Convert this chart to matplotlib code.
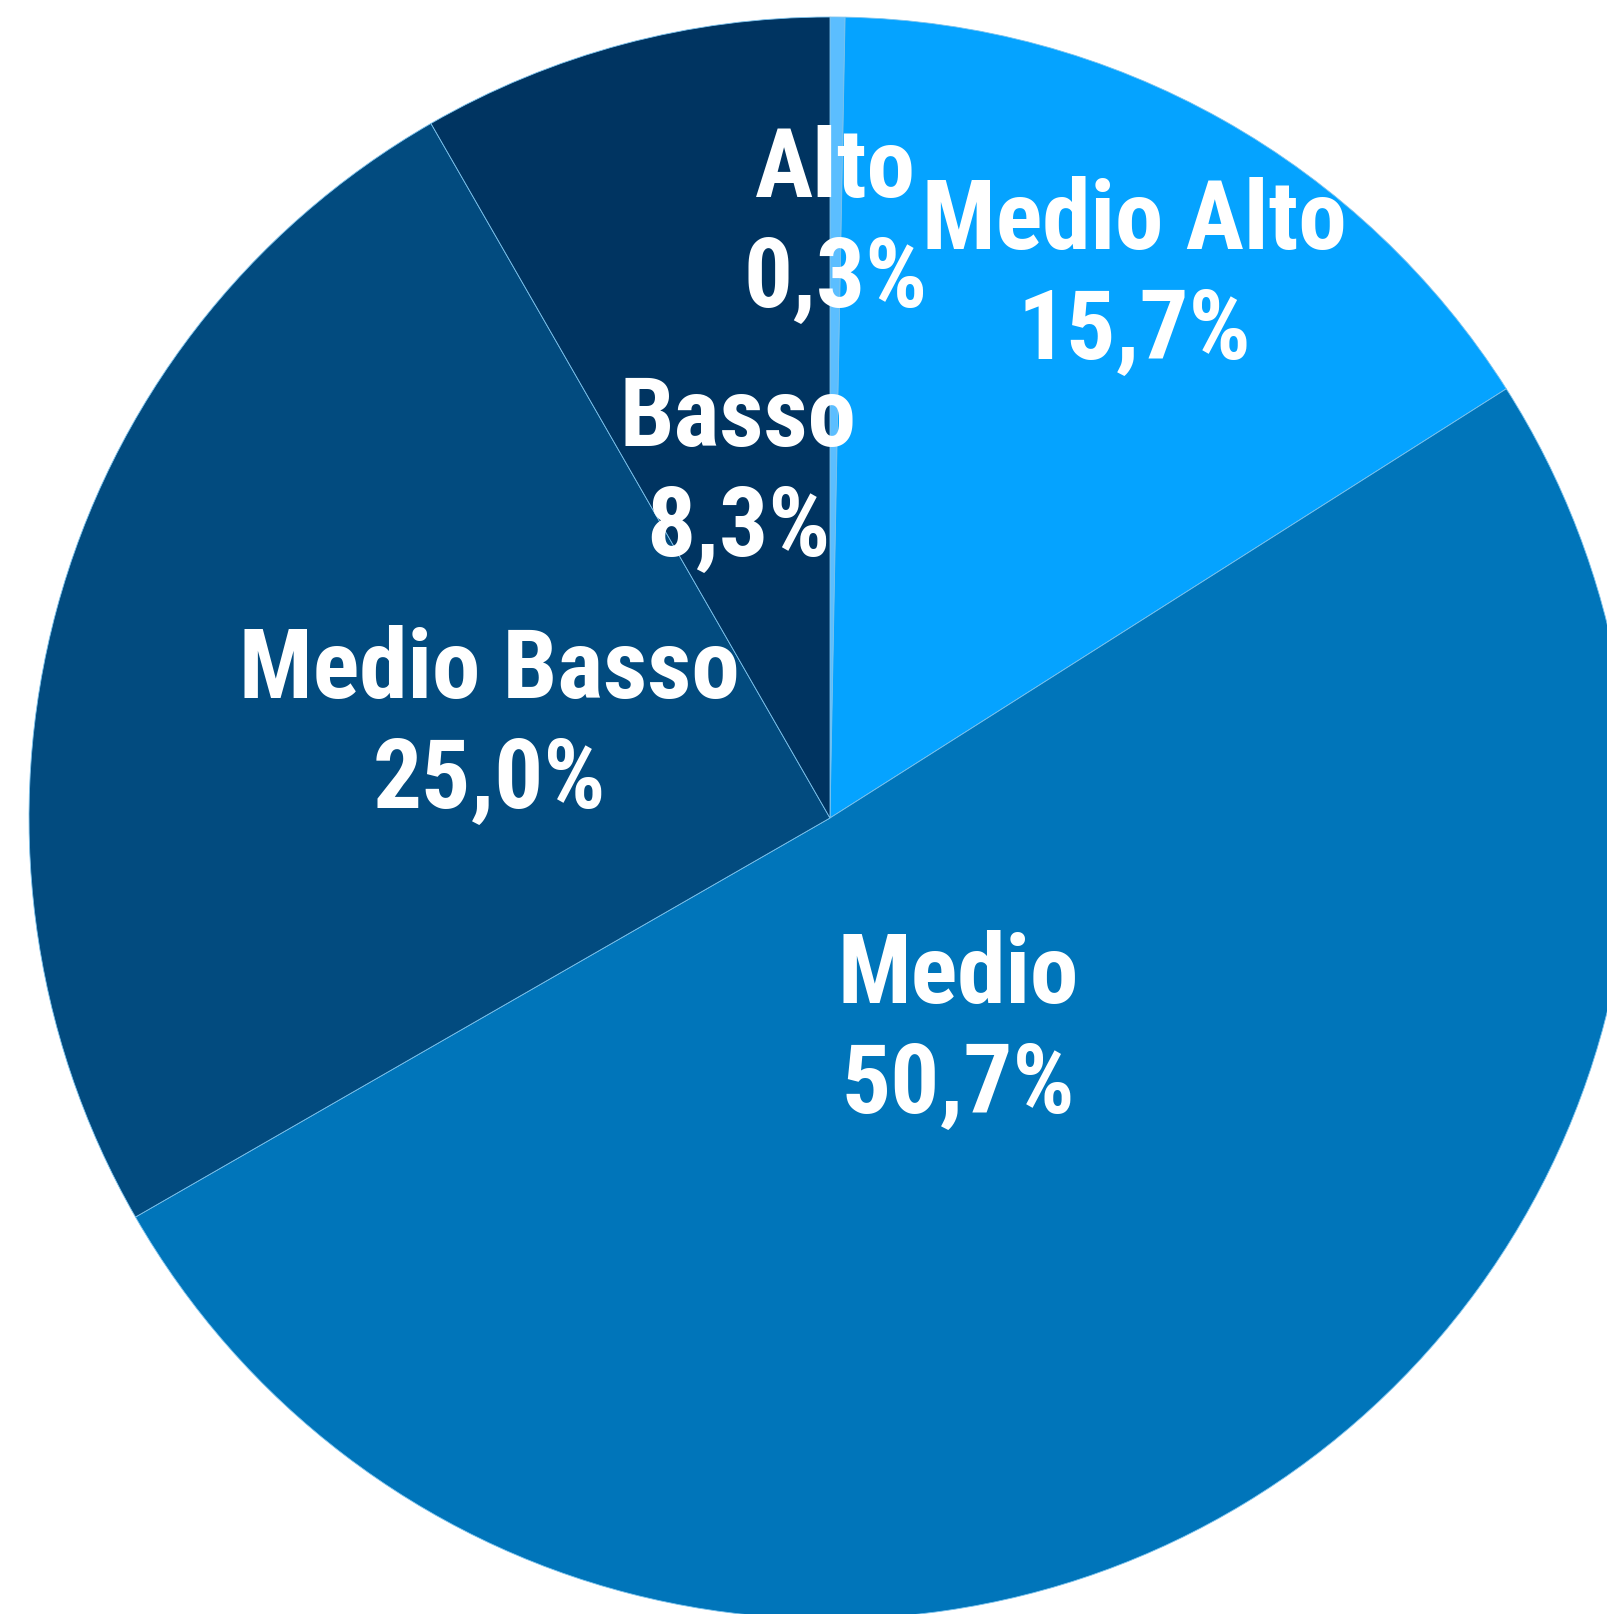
import numpy as np
import matplotlib.pyplot as plt

labels = ['Alto', 'Medio Alto', 'Medio', 'Medio Basso', 'Basso']
values = [0.3, 15.7, 50.7, 25.0, 8.3]
colors = ['#5BBEFF', '#05A3FF', '#0075BA', '#024B7F', '#003461']
label_dist = [0.74, 0.775, 0.31, 0.44, 0.445]

plt.rcParams['font.family'] = ['Roboto Condensed', 'DejaVu Sans']

fig = plt.figure(figsize=(16.08, 16.15), dpi=100)
ax = fig.add_axes([0, 0, 1, 1])

wedges, _ = ax.pie(values, colors=colors, startangle=90, counterclock=False,
                   radius=1, wedgeprops=dict(edgecolor='#7cc3ee', linewidth=0.6))

for w, lab, v, d in zip(wedges, labels, values, label_dist):
    ang = np.deg2rad((w.theta1 + w.theta2) / 2)
    txt = '{}\n{}%'.format(lab, ('%.1f' % v).replace('.', ','))
    ax.text(d * np.cos(ang), d * np.sin(ang), txt, ha='center', va='center',
            color='white', fontsize=70, fontweight='bold', fontstyle='normal',
            linespacing=1.25)

# centre of pie at (830, 819) px, radius ~801 px
r = 801.0
ax.set_xlim(-830 / r, (1608 - 830) / r)
ax.set_ylim(-(1615 - 819) / r, 819 / r)
ax.set_aspect('auto')
ax.axis('off')

fig.savefig('out.png', dpi=100)
